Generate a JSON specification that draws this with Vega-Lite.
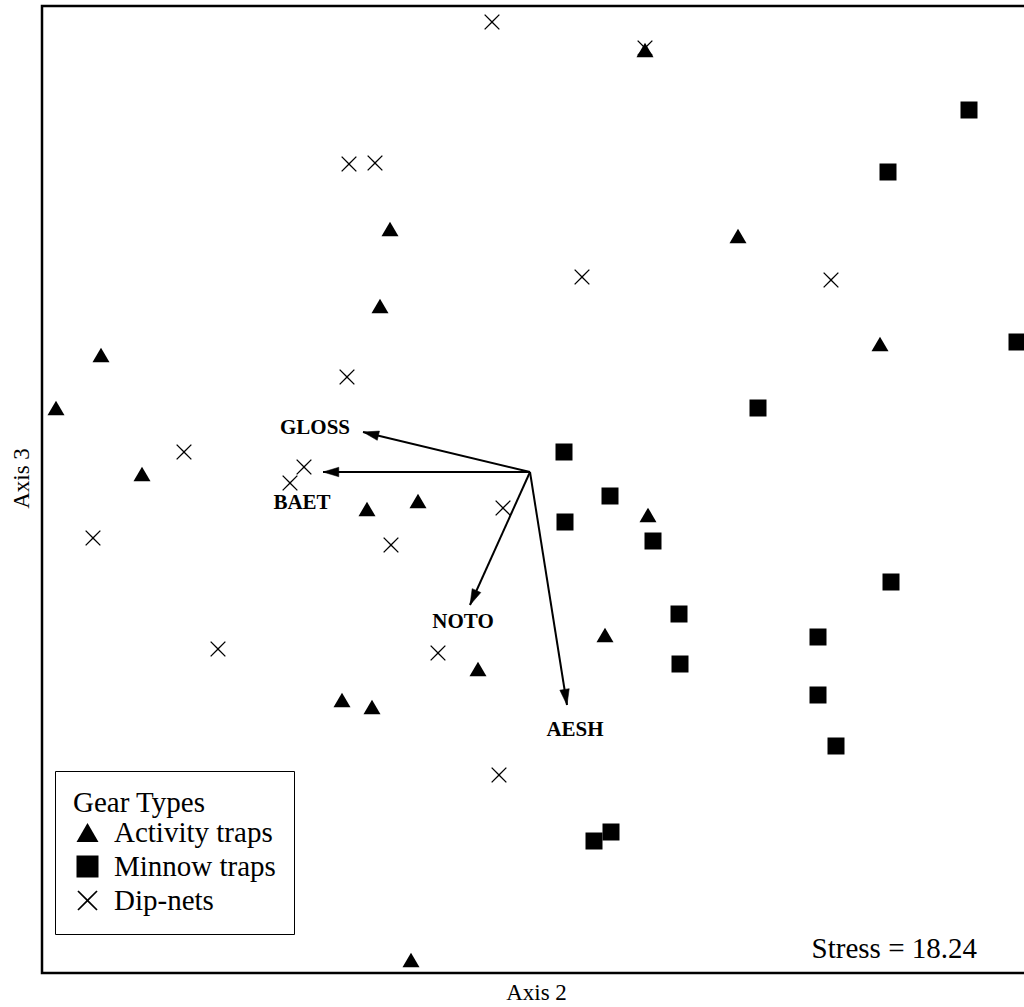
{
  "$schema": "https://vega.github.io/schema/vega-lite/v6.json",
  "width": 988,
  "height": 967,
  "autosize": {"type": "none"},
  "padding": {"left": 42, "top": 6, "right": 0, "bottom": 34},
  "background": "white",
  "config": {
    "font": "Liberation Serif",
    "view": {"stroke": "black", "strokeWidth": 2.5},
    "axis": {"domain": false, "ticks": false, "labels": false, "grid": false, "titleFont": "Liberation Serif", "titleFontSize": 23, "titleFontWeight": "normal", "titleColor": "black"},
    "axisX": {"titlePadding": 8},
    "axisY": {"titlePadding": 9, "titleY": 472}
  },
  "datasets": {
    "samples": [
      {"gear": "Activity traps", "x": 0.2875, "y": 1.055},
      {"gear": "Activity traps", "x": -0.35, "y": 0.6075},
      {"gear": "Activity traps", "x": -0.375, "y": 0.415},
      {"gear": "Activity traps", "x": 0.52, "y": 0.59},
      {"gear": "Activity traps", "x": -1.0725, "y": 0.2925},
      {"gear": "Activity traps", "x": -1.185, "y": 0.16},
      {"gear": "Activity traps", "x": 0.875, "y": 0.32},
      {"gear": "Activity traps", "x": -0.97, "y": -0.005},
      {"gear": "Activity traps", "x": -0.4075, "y": -0.0925},
      {"gear": "Activity traps", "x": -0.28, "y": -0.0725},
      {"gear": "Activity traps", "x": 0.295, "y": -0.1075},
      {"gear": "Activity traps", "x": 0.1875, "y": -0.4075},
      {"gear": "Activity traps", "x": -0.13, "y": -0.4925},
      {"gear": "Activity traps", "x": -0.47, "y": -0.57},
      {"gear": "Activity traps", "x": -0.395, "y": -0.5875},
      {"gear": "Activity traps", "x": -0.2975, "y": -1.22},
      {"gear": "Minnow traps", "x": 1.0975, "y": 0.905},
      {"gear": "Minnow traps", "x": 0.895, "y": 0.75},
      {"gear": "Minnow traps", "x": 1.2175, "y": 0.325},
      {"gear": "Minnow traps", "x": 0.57, "y": 0.16},
      {"gear": "Minnow traps", "x": 0.085, "y": 0.05},
      {"gear": "Minnow traps", "x": 0.2, "y": -0.06},
      {"gear": "Minnow traps", "x": 0.0875, "y": -0.125},
      {"gear": "Minnow traps", "x": 0.3075, "y": -0.1725},
      {"gear": "Minnow traps", "x": 0.9025, "y": -0.275},
      {"gear": "Minnow traps", "x": 0.3725, "y": -0.355},
      {"gear": "Minnow traps", "x": 0.72, "y": -0.4125},
      {"gear": "Minnow traps", "x": 0.375, "y": -0.48},
      {"gear": "Minnow traps", "x": 0.72, "y": -0.5575},
      {"gear": "Minnow traps", "x": 0.765, "y": -0.685},
      {"gear": "Minnow traps", "x": 0.2025, "y": -0.9},
      {"gear": "Minnow traps", "x": 0.16, "y": -0.9225},
      {"gear": "Dip-nets", "x": -0.095, "y": 1.125},
      {"gear": "Dip-nets", "x": 0.2875, "y": 1.06},
      {"gear": "Dip-nets", "x": -0.4525, "y": 0.77},
      {"gear": "Dip-nets", "x": -0.3875, "y": 0.7725},
      {"gear": "Dip-nets", "x": 0.13, "y": 0.4875},
      {"gear": "Dip-nets", "x": 0.7525, "y": 0.48},
      {"gear": "Dip-nets", "x": -0.4575, "y": 0.2375},
      {"gear": "Dip-nets", "x": -0.865, "y": 0.05},
      {"gear": "Dip-nets", "x": -0.565, "y": 0.0125},
      {"gear": "Dip-nets", "x": -0.6, "y": -0.0275},
      {"gear": "Dip-nets", "x": -0.0675, "y": -0.09},
      {"gear": "Dip-nets", "x": -1.0925, "y": -0.165},
      {"gear": "Dip-nets", "x": -0.3475, "y": -0.1825},
      {"gear": "Dip-nets", "x": -0.78, "y": -0.4425},
      {"gear": "Dip-nets", "x": -0.23, "y": -0.4525},
      {"gear": "Dip-nets", "x": -0.0775, "y": -0.7575}
    ],
    "vectors": [
      {"taxon": "GLOSS", "x0": 0, "y0": 0, "x": -0.4175, "y": 0.1, "lx": -0.5375, "ly": 0.11},
      {"taxon": "BAET", "x0": 0, "y0": 0, "x": -0.5175, "y": 0, "lx": -0.57, "ly": -0.0775},
      {"taxon": "NOTO", "x0": 0, "y0": 0, "x": -0.15, "y": -0.3325, "lx": -0.1675, "ly": -0.375},
      {"taxon": "AESH", "x0": 0, "y0": 0, "x": 0.0925, "y": -0.5825, "lx": 0.1125, "ly": -0.645}
    ],
    "notes": [
      {"note": "Stress = 18.24", "x": 1.1175, "y": -1.215}
    ]
  },
  "layer": [
    {
      "data": {"name": "samples"},
      "mark": {"type": "point", "filled": true, "fill": "black", "stroke": "black", "strokeWidth": 0, "size": 289, "opacity": 1},
      "encoding": {
        "x": {"field": "x", "type": "quantitative", "title": "Axis 2", "scale": {"domain": [-1.22, 1.25], "nice": false, "zero": false}},
        "y": {"field": "y", "type": "quantitative", "title": "Axis 3", "scale": {"domain": [-1.2525, 1.165], "nice": false, "zero": false}},
        "shape": {
          "field": "gear",
          "type": "nominal",
          "scale": {"domain": ["Activity traps", "Minnow traps", "Dip-nets"], "range": ["triangle-up", "square", "M-0.81,-0.92L0,-0.11L0.81,-0.92L0.92,-0.81L0.11,0L0.92,0.81L0.81,0.92L0,0.11L-0.81,0.92L-0.92,0.81L-0.11,0L-0.92,-0.81Z"]},
          "legend": {
            "orient": "none", "legendX": 13, "legendY": 765,
            "title": "Gear Types",
            "strokeColor": "black", "fillColor": "white", "padding": 18,
            "titleFont": "Liberation Serif", "titleFontSize": 29, "titleFontWeight": "normal", "titleColor": "black", "titlePadding": 0, "titleLimit": 400,
            "labelFont": "Liberation Serif", "labelFontSize": 29, "labelColor": "black", "labelLimit": 400, "labelOffset": 12,
            "symbolSize": 484, "symbolFillColor": "black", "symbolStrokeColor": "black", "symbolStrokeWidth": 0, "rowPadding": 4
          }
        }
      }
    },
    {
      "data": {"name": "vectors"},
      "mark": {"type": "rule", "color": "black", "strokeWidth": 2},
      "encoding": {
        "x": {"field": "x0", "type": "quantitative", "title": "Axis 2"},
        "y": {"field": "y0", "type": "quantitative", "title": "Axis 3"},
        "x2": {"field": "x"},
        "y2": {"field": "y"}
      }
    },
    {
      "data": {"name": "vectors"},
      "transform": [{"calculate": "atan2(datum.x - datum.x0, datum.y - datum.y0) * 180 / PI", "as": "ang"}],
      "mark": {"type": "point", "shape": "M0,0L-0.3,1L0.3,1Z", "filled": true, "fill": "black", "stroke": "black", "strokeWidth": 0.5, "size": 1000, "opacity": 1},
      "encoding": {
        "x": {"field": "x", "type": "quantitative", "title": "Axis 2"},
        "y": {"field": "y", "type": "quantitative", "title": "Axis 3"},
        "angle": {"field": "ang", "type": "quantitative", "scale": null}
      }
    },
    {
      "data": {"name": "vectors"},
      "mark": {"type": "text", "font": "Liberation Serif", "fontWeight": "bold", "fontSize": 21, "color": "black", "align": "center", "baseline": "middle"},
      "encoding": {
        "x": {"field": "lx", "type": "quantitative", "title": "Axis 2"},
        "y": {"field": "ly", "type": "quantitative", "title": "Axis 3"},
        "text": {"field": "taxon"}
      }
    },
    {
      "data": {"name": "notes"},
      "mark": {"type": "text", "font": "Liberation Serif", "fontSize": 29, "color": "black", "align": "right", "baseline": "alphabetic"},
      "encoding": {
        "x": {"field": "x", "type": "quantitative", "title": "Axis 2"},
        "y": {"field": "y", "type": "quantitative", "title": "Axis 3"},
        "text": {"field": "note"}
      }
    }
  ]
}
